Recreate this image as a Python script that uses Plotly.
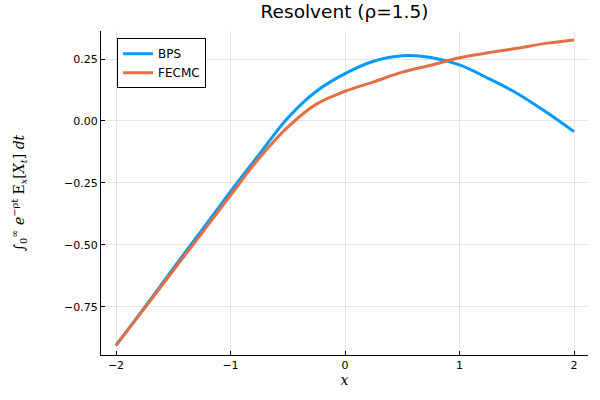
import plotly.graph_objects as go

x_vals = [-2.0, -1.75, -1.5, -1.25, -1.0, -0.75, -0.5, -0.25, 0.0, 0.25, 0.5, 0.75, 1.0, 1.25, 1.5, 1.75, 2.0]
bps = [-0.905, -0.752, -0.595, -0.44, -0.285, -0.135, 0.012, 0.12, 0.191, 0.241, 0.263, 0.256, 0.226, 0.172, 0.112, 0.038, -0.043]
fecmc = [-0.905, -0.755, -0.603, -0.452, -0.30, -0.15, -0.025, 0.068, 0.12, 0.158, 0.197, 0.225, 0.255, 0.275, 0.293, 0.313, 0.327]

x_ticks = [-2, -1, 0, 1, 2]
x_tick_labels = ["−2", "−1", "0", "1", "2"]
y_ticks = [0.25, 0.0, -0.25, -0.5, -0.75]
y_tick_labels = ["0.25", "0.00", "−0.25", "−0.50", "−0.75"]

fig = go.Figure()
fig.add_trace(go.Scatter(x=x_vals, y=bps, mode="lines", name="BPS",
                         line=dict(color="#009AFA", width=3, shape="spline", smoothing=1.0)))
fig.add_trace(go.Scatter(x=x_vals, y=fecmc, mode="lines", name="FECMC",
                         line=dict(color="#E26F46", width=3, shape="spline", smoothing=1.0)))

font_fam = "DejaVu Sans"
fig.update_layout(
    width=600, height=400,
    margin=dict(l=101, r=12, t=31, b=45),
    paper_bgcolor="white", plot_bgcolor="white",
    title=dict(text="Resolvent (ρ=1.5)", x=0.5, xanchor="center", xref="paper",
               y=0.97, yanchor="middle", yref="container",
               font=dict(family=font_fam, size=18.5, color="black")),
    font=dict(family=font_fam, size=11, color="black"),
    showlegend=True,
    legend=dict(x=0.033, y=0.978, xanchor="left", yanchor="top",
                bgcolor="white", bordercolor="black", borderwidth=1,
                font=dict(family=font_fam, size=12), tracegroupgap=0,
                itemwidth=30),
    xaxis=dict(range=[-2.131, 2.122], tickvals=x_ticks, ticktext=x_tick_labels,
               showgrid=True, gridcolor="rgba(0,0,0,0.1)", gridwidth=0.5,
               showline=True, linecolor="black", linewidth=1, automargin=False,
               ticks="inside", ticklen=4, tickcolor="black", zeroline=False,
               title=dict(text="<i>x</i>", font=dict(family="DejaVu Serif", size=14), standoff=2),
               tickfont=dict(size=11)),
    yaxis=dict(range=[-0.944, 0.363], tickvals=y_ticks, ticktext=y_tick_labels,
               showgrid=True, gridcolor="rgba(0,0,0,0.1)", gridwidth=0.5,
               showline=True, linecolor="black", linewidth=1, automargin=False,
               ticks="inside", ticklen=4, tickcolor="black", zeroline=False,
               title=dict(text="∫<sub>0</sub><sup>∞</sup> <i>e</i><sup>−ρt</sup> E<sub><i>x</i></sub>[<i>X<sub>t</sub></i>] <i>dt</i>",
                          font=dict(family="DejaVu Serif", size=14), standoff=36),
               tickfont=dict(size=11)),
)

fig.write_html("out.html", config={"displayModeBar": False},
               post_script="document.body.style.margin='0px';")
